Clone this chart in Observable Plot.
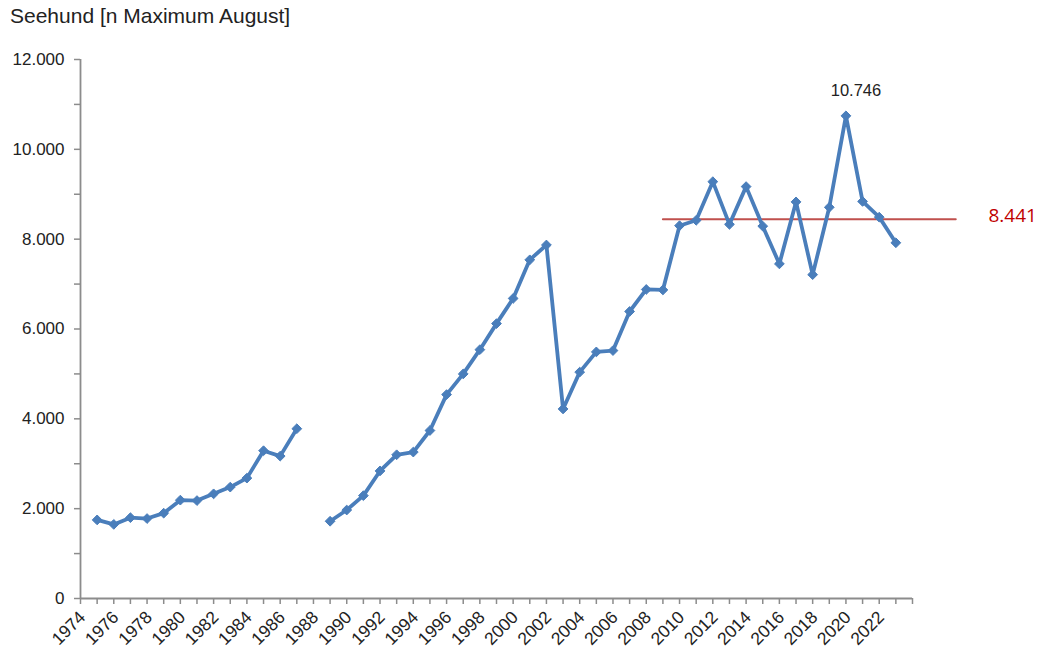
<!DOCTYPE html>
<html>
<head>
<meta charset="utf-8">
<script src="https://cdn.jsdelivr.net/npm/d3@7"></script>
<script src="https://cdn.jsdelivr.net/npm/@observablehq/plot@0.6"></script>
<style>
  body { margin: 0; background: #fff; font-family: "Liberation Sans", Arial, sans-serif; }
  #title { height: 40px; box-sizing: border-box; padding: 5px 0 0 10px; font-size: 21px; color: #222; line-height: 22px; }
  #chart svg { display: block; overflow: visible; }
</style>
</head>
<body>
<div id="title">Seehund [n Maximum August]</div>
<div id="chart"></div>
<script>
const years = [1975,1976,1977,1978,1979,1980,1981,1982,1983,1984,1985,1986,1987,1988,1989,1990,1991,1992,1993,1994,1995,1996,1997,1998,1999,2000,2001,2002,2003,2004,2005,2006,2007,2008,2009,2010,2011,2012,2013,2014,2015,2016,2017,2018,2019,2020,2021,2022,2023];
const counts = [1750,1650,1800,1780,1900,2190,2180,2330,2480,2680,3290,3170,3780,null,1720,1970,2290,2840,3200,3260,3740,4540,5000,5540,6120,6680,7540,7870,4220,5040,5490,5520,6390,6880,6870,8300,8420,9280,8330,9170,8290,7450,8830,7210,8710,10746,8840,8490,7920];
const yTicks = [0,2000,4000,6000,8000,10000,12000];
const yMinorTicks = [1000,3000,5000,7000,9000,11000];
const xTickLabels = [1974,1976,1978,1980,1982,1984,1986,1988,1990,1992,1994,1996,1998,2000,2002,2004,2006,2008,2010,2012,2014,2016,2018,2020,2022];
const xAllTicks = [1974,1975,1976,1977,1978,1979,1980,1981,1982,1983,1984,1985,1986,1987,1988,1989,1990,1991,1992,1993,1994,1995,1996,1997,1998,1999,2000,2001,2002,2003,2004,2005,2006,2007,2008,2009,2010,2011,2012,2013,2014,2015,2016,2017,2018,2019,2020,2021,2022,2023,2024];
const meanValue = 8441;
const meanSpan = [2009, 2026.6];
const peakYear = 2020;
const peakValue = 10746;

const data = years.map((y, i) => ({year: y, value: counts[i]}));
const meanLine = meanSpan.map(x => ({x, y: meanValue}));
const de = d3.formatLocale({decimal: ",", thousands: ".", grouping: [3], currency: ["", " €"]});
const fmt = de.format(",");

const blue = "#4a7ebb";
const axisGray = "#8c8c8c";

const chart = Plot.plot({
  width: 1041,
  height: 611,
  marginLeft: 80,
  marginRight: 129,
  marginTop: 19,
  marginBottom: 53,
  style: {fontFamily: "'Liberation Sans', Arial, sans-serif", fontSize: "17px", color: "#222", background: "#fff"},
  x: {type: "linear", domain: [1974, 2024], axis: null},
  y: {type: "linear", domain: [0, 12000], axis: null},
  marks: [
    // y axis
    Plot.ruleX([1974], {y1: 0, y2: 12000, stroke: axisGray, strokeWidth: 1.8}),
    Plot.ruleY(yTicks.concat(yMinorTicks), {y: d => d, x1: () => 1974, x2: () => 1974, insetLeft: -6, stroke: axisGray, strokeWidth: 1.5}),
    Plot.text(yTicks, {x: () => 1974, y: d => d, text: d => fmt(d), textAnchor: "end", dx: -16, fill: "#222", fontSize: 17}),
    // x axis
    Plot.ruleY([0], {x1: 1974, x2: 2024, stroke: axisGray, strokeWidth: 1.8}),
    Plot.ruleX(xAllTicks, {x: d => d, y1: () => 0, y2: () => 0, insetBottom: -6, stroke: axisGray, strokeWidth: 1.5}),
    Plot.text(xTickLabels, {x: d => d, y: () => 0, text: d => String(d), rotate: -45, textAnchor: "end", dx: 2, dy: 16, fill: "#222", fontSize: 17.5}),
    // mean line
    Plot.line(meanLine, {x: "x", y: "y", stroke: "#c0504d", strokeWidth: 2}),
    Plot.text([meanValue], {y: d => d, frameAnchor: "right", text: d => fmt(d), textAnchor: "start", dx: 76, dy: -3, fill: "#c00000", fontSize: 19, fontFamily: "'Open Sans', 'Noto Sans', sans-serif"}),
    // series
    Plot.line(data, {x: "year", y: "value", stroke: blue, strokeWidth: 3.8, curve: "linear"}),
    Plot.dot(data.filter(d => d.value != null), {x: "year", y: "value", symbol: "diamond2", r: 4.4, fill: blue, stroke: blue, strokeWidth: 1}),
    Plot.text([{year: peakYear, value: peakValue}], {x: "year", y: "value", text: d => fmt(d.value), dx: 10, dy: -25, fill: "#222", fontSize: 16.5})
  ]
});
document.getElementById("chart").appendChild(chart);
</script>
</body>
</html>
